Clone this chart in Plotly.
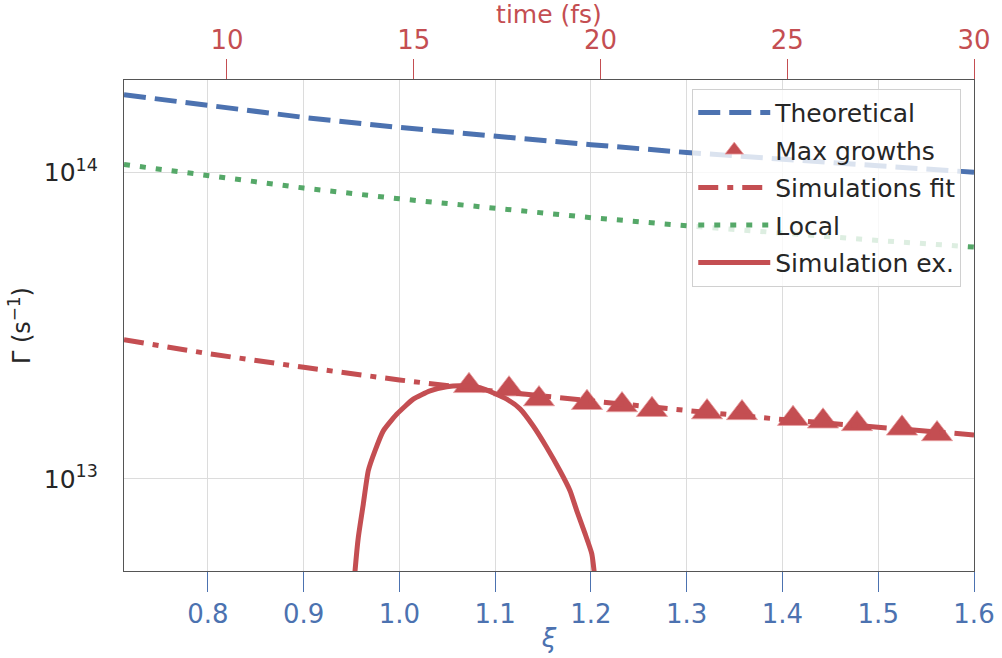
import plotly.graph_objects as go

# Growth rate vs. normalised parameter xi (log scale), with a time axis on top
xi_grid = [0.7123, 0.8, 0.9, 1.0, 1.1, 1.2, 1.3, 1.4, 1.5, 1.6]
gamma_theory = [1.79e14, 1.65e14, 1.51e14, 1.40e14, 1.31e14, 1.23e14, 1.16e14, 1.10e14, 1.05e14, 1.00e14]
gamma_local = [1.06e14, 9.72e13, 8.88e13, 8.19e13, 7.61e13, 7.11e13, 6.69e13, 6.32e13, 5.99e13, 5.70e13]
gamma_fit = [2.84e13, 2.56e13, 2.31e13, 2.10e13, 1.93e13, 1.79e13, 1.67e13, 1.56e13, 1.47e13, 1.39e13]

xi_max = [1.0726, 1.1144, 1.1457, 1.1958, 1.2324, 1.2637, 1.3212, 1.3577, 1.4110, 1.4423, 1.4778, 1.5248, 1.5614]
gamma_max = [2.01e13, 1.96e13, 1.82e13, 1.77e13, 1.74e13, 1.68e13, 1.65e13, 1.64e13, 1.57e13, 1.54e13, 1.51e13, 1.46e13, 1.40e13]

xi_sim = [0.9525, 0.9536, 0.9570, 0.9622, 0.9674, 0.9744, 0.9831, 0.9971, 1.0144, 1.0319, 1.0493, 1.0632,
          1.0841, 1.1120, 1.1259, 1.1395, 1.1538, 1.1676, 1.1781, 1.1851, 1.1938, 1.2008, 1.2032, 1.2045]
gamma_sim = [4.5e12, 5.01e12, 6.44e12, 8.27e12, 1.062e13, 1.233e13, 1.433e13, 1.623e13, 1.818e13, 1.935e13, 1.995e13, 2.01e13,
             1.983e13, 1.818e13, 1.690e13, 1.489e13, 1.265e13, 1.062e13, 9.14e12, 7.87e12, 6.62e12, 5.70e12, 5.01e12, 4.5e12]

xi_ticks = [0.8, 0.9, 1.0, 1.1, 1.2, 1.3, 1.4, 1.5, 1.6]
xi_range = [0.7123, 1.6]
time_ticks = [10, 15, 20, 25, 30]
time_range = [7.243, 30]
gamma_ticks = [1e13, 1e14]
gamma_ticktext = ["10<sup>13</sup>", "10<sup>14</sup>"]

BLUE = "#4C72B0"
GREEN = "#55A868"
RED = "#C44E52"
TEXT = "#262626"
FONT = "DejaVu Sans"

fig = go.Figure()
fig.add_trace(go.Scatter(x=xi_grid, y=gamma_theory, mode="lines", name="Theoretical",
                         line=dict(color=BLUE, width=5, dash="22px,9px"), legendgroup="a"))
fig.add_trace(go.Scatter(x=xi_max, y=gamma_max, mode="markers", name="Max growths",
                         marker=dict(symbol="triangle-up", size=27, color=RED,
                                     line=dict(color="#e8a0a2", width=0.8)), legendgroup="b"))
fig.add_trace(go.Scatter(x=xi_grid, y=gamma_fit, mode="lines", name="Simulations fit",
                         line=dict(color=RED, width=5, dash="20px,9px,6px,9px"), legendgroup="c"))
fig.add_trace(go.Scatter(x=xi_grid, y=gamma_local, mode="lines", name="Local",
                         line=dict(color=GREEN, width=5, dash="6px,10px"), legendgroup="d"))
fig.add_trace(go.Scatter(x=xi_sim, y=gamma_sim, mode="lines", name="Simulation ex.",
                         line=dict(color=RED, width=5, shape="spline", smoothing=0.5), legendgroup="e"))
# time axis on top shares the same plot area
fig.add_trace(go.Scatter(x=time_range, y=[None, None], xaxis="x2", mode="lines",
                         showlegend=False, hoverinfo="skip"))

fig.update_layout(
    width=1002, height=658,
    margin=dict(l=124, r=28, t=80, b=87),
    paper_bgcolor="white", plot_bgcolor="white",
    font=dict(family=FONT, size=25, color=TEXT),
    showlegend=True,
    legend=dict(x=0.985, y=0.982, xanchor="right", yanchor="top",
                bgcolor="rgba(255,255,255,0.8)", bordercolor="#d0d0d0", borderwidth=1,
                font=dict(size=25, color=TEXT), tracegroupgap=2, itemwidth=72),
    xaxis=dict(range=xi_range, tickvals=xi_ticks, ticktext=[f"{v:.1f}" for v in xi_ticks],
               ticks="outside", ticklen=20, tickwidth=1, tickcolor=BLUE,
               tickfont=dict(color=BLUE, size=26), automargin=False,
               showgrid=True, gridcolor="#dcdcdc", gridwidth=1, zeroline=False,
               showline=True, linecolor="#555555", linewidth=1.3, mirror=True,
               title=dict(text="<i>ξ</i>", font=dict(color=BLUE, size=26), standoff=0)),
    xaxis2=dict(range=time_range, tickvals=time_ticks, overlaying="x", side="top", anchor="y",
                ticks="outside", ticklen=20, tickwidth=1, tickcolor=RED, automargin=False,
                tickfont=dict(color=RED, size=26), showgrid=False, zeroline=False,
                title=dict(text="time (fs)", font=dict(color=RED, size=25), standoff=0)),
    yaxis=dict(type="log", range=[12.699, 14.301], tickvals=gamma_ticks, ticktext=gamma_ticktext,
               tickfont=dict(size=25, color=TEXT), ticks="", ticklabelstandoff=20, automargin=False,
               showgrid=True, gridcolor="#dcdcdc", gridwidth=1, zeroline=False,
               showline=True, linecolor="#555555", linewidth=1.3, mirror=True,
               title=dict(text="Γ (s<sup>−1</sup>)", font=dict(size=24, color=TEXT), standoff=6)),
)

fig.write_html("out.html")
